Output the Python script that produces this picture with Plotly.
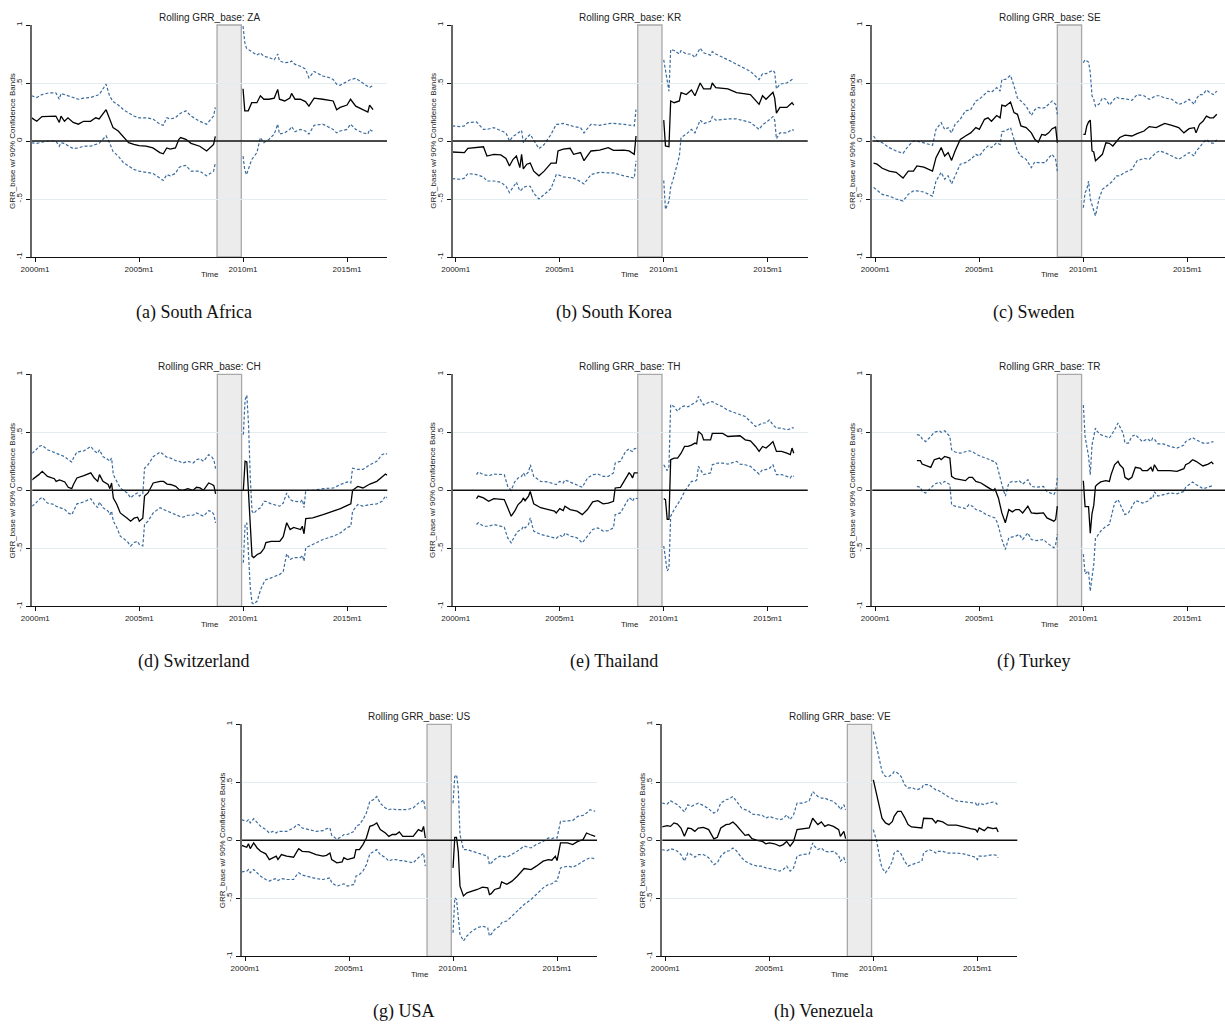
import plotly.graph_objects as go

# Rolling GRR_base estimates with 90% confidence bands.
# Months are counted from 2000m1 (= 0). No estimate is reported inside the
# crisis window, so each line is split there.

ZA_MONTHS = [-2, 1, 4, 8, 12, 14, 15, 17, 19, 22, 25, 28, 32, 35, 37, 41, 43, 45, 48, 51,
             54, 57, 60, 64, 68, 72, 74, 76, 78, 81, 83, 84, 87, 90, 95, 99, 101, 103, 104,
             120, 121, 122, 123, 125, 128, 130, 132, 135, 138, 140, 141, 144, 147, 148, 150,
             153, 156, 158, 161, 166, 170, 172, 174, 176, 180, 182, 185, 189, 192, 193, 195]
ZA_EST = [.20, .17, .21, .215, .215, .16, .215, .17, .20, .16, .145, .17, .17, .20, .19, .27, .19, .115, .086, .04,
          -.015, -.03, -.04, -.045, -.06, -.10, -.11, -.06, -.07, -.06, .015, .03, .015, -.02, -.045, -.086, -.06, -.03, .04,
          .45, .26, .26, .26, .33, .33, .39, .36, .36, .37, .445, .36, .345, .37, .41, .36,
          .36, .34, .30, .37, .36, .35, .345, .27, .29, .31, .36, .30, .27, .25, .31, .27]
ZA_HI = [.39, .375, .40, .415, .415, .36, .41, .40, .39, .37, .36, .37, .375, .39, .40, .49, .39, .34, .31, .27,
         .245, .215, .20, .20, .19, .145, .135, .20, .19, .20, .23, .24, .26, .215, .17, .145, .18, .215, .29,
         .99, .85, .80, .79, .77, .74, .76, .73, .72, .70, .75, .69, .675, .68, .69, .66,
         .645, .62, .545, .60, .56, .545, .53, .49, .48, .51, .53, .54, .50, .475, .46, .48]
ZA_LO = [-.015, -.02, -.01, 0, 0, -.045, -.015, -.02, -.04, -.065, -.06, -.045, -.045, -.03, -.02, .045, -.015, -.09, -.13, -.187,
         -.22, -.245, -.26, -.27, -.28, -.32, -.34, -.29, -.30, -.28, -.23, -.22, -.21, -.26, -.26, -.30, -.28, -.26, -.19,
         -.13, -.25, -.29, -.245, -.16, -.10, .03, -.015, .015, .06, .145, .06, .07, .10, .125, .08,
         .10, .086, .06, .135, .145, .115, .10, .07, .086, .10, .145, .10, .07, .06, .10, .08]

KR_MONTHS = [-2, 3, 5, 7, 12, 16, 18, 22, 26, 29, 31, 33, 35, 37, 38, 39, 41, 43, 45, 48,
             51, 55, 58, 59, 62, 66, 68, 72, 74, 78, 83, 88, 91, 97, 100, 103, 104,
             120, 121, 123, 124, 126, 129, 130, 133, 136, 138, 141, 143, 147, 148, 150, 157,
             162, 170, 175, 177, 179, 183, 184, 185, 187, 191, 194, 195]
KR_EST = [-.095, -.095, -.10, -.063, -.057, -.05, -.13, -.115, -.12, -.15, -.215, -.16, -.13, -.23, -.115, -.24, -.20, -.19, -.26, -.30,
          -.26, -.19, -.19, -.086, -.07, -.063, -.115, -.10, -.17, -.086, -.078, -.057, -.08, -.078, -.086, -.115, .043,
          .18, -.043, -.05, .345, .33, .345, .417, .40, .44, .39, .50, .45, .45, .50, .46, .45,
          .417, .40, .316, .39, .36, .42, .37, .24, .29, .29, .33, .31]
KR_HI = [.13, .124, .13, .158, .164, .10, .10, .115, .09, .07, 0, .04, .057, .08, .092, -.014, .03, .057, .01, -.066,
         -.03, .057, .144, .144, .152, .13, .125, .115, .07, .144, .135, .15, .152, .144, .135, .13, .27,
         .70, .60, .43, .79, .78, .75, .78, .75, .75, .72, .80, .76, .74, .77, .75, .70,
         .66, .60, .53, .58, .58, .61, .59, .45, .49, .50, .53, .52]
KR_LO = [-.325, -.33, -.32, -.28, -.29, -.31, -.345, -.345, -.355, -.39, -.445, -.40, -.355, -.43, -.42, -.40, -.39, -.39, -.45, -.50,
         -.46, -.41, -.29, -.29, -.31, -.32, -.32, -.35, -.37, -.29, -.27, -.275, -.275, -.30, -.31, -.32, -.17,
         -.34, -.59, -.52, -.40, -.30, -.13, .03, .06, .10, .07, .18, .15, .17, .21, .18, .19,
         .19, .16, .10, .14, .16, .21, .18, .02, .07, .07, .10, .09]

SE_MONTHS = [-1, 1, 4, 8, 12, 16, 19, 22, 24, 28, 33, 35, 38, 40, 42, 44, 46, 49, 52, 55,
             58, 60, 63, 65, 67, 70, 72, 73, 75, 78, 80, 82, 84, 87, 90, 92, 94, 96, 98, 100,
             102, 104, 105,
             120, 121, 122, 123, 124, 125, 126, 127, 128, 129, 131, 133, 135, 137, 139, 141, 144, 148,
             151, 155, 158, 162, 164, 167, 171, 175, 178, 181, 184, 185, 187, 189, 191, 193, 195, 197]
SE_EST = [-.19, -.20, -.235, -.26, -.27, -.32, -.26, -.26, -.215, -.225, -.26, -.144, -.057, -.13, -.10, -.167, -.086, .014, .043, .07,
          .115, .10, .187, .20, .17, .22, .20, .31, .30, .336, .245, .23, .13, .115, .07, .014, -.01, .057, .05, .07,
          .106, .12, -.015,
          .057, .057, .13, .164, .18, -.086, -.095, -.17, -.158, -.144, -.115, -.015, -.02, -.043, -.01, .03, .05, .043,
          .063, .086, .124, .115, .13, .152, .135, .115, .07, .106, .115, .07, .144, .17, .215, .20, .20, .23]
SE_HI = [.043, 0, -.015, -.057, -.086, -.106, -.043, 0, 0, -.015, -.037, .10, .158, .10, .115, .07, .144, .187, .26, .27,
         .345, .36, .40, .43, .42, .46, .43, .53, .53, .566, .475, .37, .345, .30, .22, .27, .29, .28, .29, .316,
         .345, .316, .23,
         .675, .70, .69, .68, .59, .39, .36, .30, .31, .316, .37, .36, .31, .345, .38, .365, .365, .35,
         .40, .39, .36, .39, .39, .37, .36, .316, .33, .36, .316, .36, .40, .40, .44, .417, .40, .43]
SE_LO = [-.40, -.425, -.46, -.475, -.50, -.517, -.46, -.43, -.43, -.44, -.475, -.345, -.27, -.33, -.30, -.37, -.30, -.20, -.187, -.158,
         -.115, -.13, -.07, -.043, -.057, -.015, -.03, .08, .086, .115, .014, -.086, -.13, -.158, -.23, -.18, -.187, -.187, -.187, -.144,
         -.115, -.158, -.26,
         -.575, -.445, -.417, -.345, -.50, -.56, -.60, -.645, -.575, -.50, -.417, -.39, -.37, -.345, -.30, -.30, -.27, -.245,
         -.17, -.15, -.158, -.10, -.086, -.10, -.13, -.158, -.13, -.10, -.13, -.086, -.057, -.015, .014, -.015, -.02, .01]

CH_MONTHS = [-2, 0, 2, 4, 7, 11, 12, 14, 17, 19, 21, 22, 24, 28, 32, 34, 36, 37, 39, 42,
             43, 44, 45, 47, 49, 53, 55, 57, 59, 60, 62, 63, 65, 68, 72, 74, 76, 78, 81, 83,
             85, 88, 91, 93, 95, 97, 100, 102, 103, 104,
             120, 121, 122, 123, 124, 125, 126, 128, 130, 132, 133, 136, 141, 143, 145, 147, 149, 153,
             154, 155, 156, 160, 166, 172, 176, 180, 182, 183, 186, 189, 193, 197, 200, 202, 203]
CH_EST = [.09, .11, .135, .163, .12, .10, .077, .09, .072, .026, .014, .05, .106, .126, .15, .106, .077, .135, .077, .05,
          .014, .063, -.066, -.12, -.195, -.24, -.266, -.24, -.232, -.266, -.24, -.05, -.023, .063, .077, .077, .054, .05, .034, .006,
          0, .014, 0, .026, .02, 0, .063, .05, .04, -.03,
          0, .25, .244, -.01, -.35, -.567, -.58, -.553, -.54, -.50, -.45, -.44, -.44, -.40, -.28, -.338, -.32, -.338,
          -.31, -.375, -.243, -.238, -.21, -.18, -.158, -.13, -.117, 0, .034, .02, .054, .077, .12, .14, .13]
CH_HI = [.32, .34, .378, .387, .35, .33, .32, .307, .29, .264, .244, .278, .33, .34, .378, .34, .32, .35, .29, .264,
         .25, .278, .135, .077, .02, -.023, -.066, -.037, -.023, -.05, -.03, .19, .22, .29, .33, .307, .284, .278, .255, .25,
         .235, .25, .235, .264, .272, .25, .307, .284, .264, .186,
         .48, .78, .82, .565, .106, -.18, -.20, -.166, -.15, -.095, -.095, -.117, -.137, -.11, -.023, -.08, -.095, -.10,
         -.08, -.15, 0, 0, .014, .02, .05, .072, .063, .19, .18, .18, .22, .25, .307, .32, .31]
CH_LO = [-.137, -.117, -.08, -.06, -.11, -.123, -.137, -.15, -.166, -.195, -.21, -.18, -.117, -.10, -.072, -.117, -.15, -.10, -.15, -.18,
         -.21, -.18, -.266, -.32, -.395, -.44, -.48, -.45, -.44, -.467, -.48, -.295, -.266, -.195, -.15, -.166, -.18, -.195, -.21, -.223,
         -.232, -.215, -.215, -.195, -.21, -.223, -.175, -.186, -.21, -.28,
         -.625, -.295, -.28, -.58, -.84, -.97, -.98, -.955, -.854, -.79, -.77, -.755, -.725, -.70, -.547, -.596, -.58, -.58,
         -.56, -.61, -.495, -.467, -.424, -.395, -.367, -.32, -.31, -.18, -.123, -.137, -.123, -.117, -.095, -.05, -.066]

TH_MONTHS = [12, 13, 16, 19, 22, 26, 28, 30, 32, 34, 36, 38, 39, 40, 42, 43, 45, 49, 53, 57,
             58, 60, 62, 63, 66, 70, 73, 76, 79, 82, 85, 88, 91, 92, 95, 98, 100, 101, 102, 103, 105,
             120, 121, 122, 123, 124, 126, 128, 130, 132, 134, 136, 138, 139, 140, 142, 143, 147, 148,
             151, 154, 157, 162, 164, 167, 170, 173, 175, 177, 179, 181, 183, 185, 188, 191, 193, 194, 195]
TH_EST = [-.072, -.05, -.066, -.095, -.072, -.075, -.08, -.15, -.223, -.18, -.123, -.095, -.066, -.09, -.05, -.01, -.117, -.15, -.166, -.18,
          -.195, -.158, -.175, -.137, -.166, -.18, -.21, -.166, -.10, -.09, -.117, -.11, -.095, .02, .026, .106, .15, .135, .106, .15, .15,
          -.072, -.08, -.25, -.25, .264, .278, .278, .32, .378, .378, .39, .407, .40, .507, .48, .435, .435, .49,
          .49, .49, .464, .464, .47, .435, .427, .378, .335, .378, .364, .39, .42, .335, .335, .32, .307, .364, .32]
TH_HI = [.135, .158, .135, .126, .14, .14, .135, .034, 0, .072, .106, .12, .15, .126, .158, .22, .12, .077, .072, .054,
         .05, .077, .063, .09, .072, .043, .026, .106, .135, .14, .12, .12, .15, .235, .25, .335, .358, .34, .335, .358, .364,
         .22, .19, .17, .206, .74, .72, .68, .72, .727, .72, .736, .75, .765, .81, .765, .736, .765, .765,
         .74, .72, .69, .665, .65, .636, .593, .55, .564, .58, .58, .607, .564, .536, .536, .52, .53, .54, .536]
TH_LO = [-.295, -.28, -.31, -.31, -.295, -.31, -.318, -.41, -.453, -.395, -.352, -.338, -.31, -.324, -.295, -.238, -.352, -.38, -.395, -.41,
         -.415, -.387, -.404, -.367, -.395, -.41, -.453, -.395, -.338, -.324, -.352, -.347, -.324, -.21, -.195, -.117, -.066, -.072, -.095, -.066, -.072,
         -.48, -.61, -.696, -.673, -.223, -.166, -.117, -.072, -.01, .034, .077, .077, .09, .206, .163, .135, .15, .22,
         .235, .235, .226, .25, .226, .22, .206, .163, .14, .178, .178, .19, .22, .135, .135, .12, .106, .13, .12]

TR_MONTHS = [24, 26, 27, 29, 32, 34, 37, 38, 40, 43, 44, 46, 49, 52, 54, 56, 58, 61, 64, 66,
             68, 69, 70, 71, 73, 75, 77, 79, 81, 83, 85, 88, 90, 93, 97, 99, 103, 104, 105,
             120, 121, 123, 124, 125, 126, 127, 128, 130, 133, 135, 136, 138, 140, 141, 143, 144, 146,
             148, 150, 153, 154, 157, 159, 160, 161, 163, 166, 170, 174, 178, 179, 181, 183, 185, 189,
             192, 194, 195]
TR_EST = [.255, .255, .226, .215, .198, .264, .278, .264, .292, .278, .12, .10, .092, .083, .112, .112, .077, .063, .034, .014,
          -.003, .014, -.023, -.066, -.195, -.28, -.166, -.186, -.166, -.166, -.195, -.137, -.195, -.20, -.195, -.238, -.266, -.252, -.137,
          .083, -.14, -.14, -.37, -.20, -.13, .034, .05, .072, .083, .077, .135, .22, .25, .22, .19, .112, .092,
          .112, .198, .19, .17, .17, .198, .163, .22, .17, .17, .17, .163, .186, .22, .235, .264, .25, .21,
          .226, .244, .226]
TR_HI = [.48, .473, .444, .42, .464, .50, .513, .50, .513, .464, .35, .33, .32, .33, .34, .335, .312, .292, .278, .264,
         .25, .25, .226, .163, .05, -.05, .063, .077, .072, .083, .054, .092, .034, .026, .034, -.01, -.037, -.01, .106,
         .736, .464, .292, .135, .39, .45, .536, .507, .48, .464, .45, .473, .52, .58, .55, .49, .407, .407,
         .464, .48, .435, .42, .444, .42, .45, .44, .40, .40, .378, .364, .39, .42, .435, .455, .435, .407,
         .407, .42, .42]
TR_LO = [.034, .026, -.01, -.023, .02, .05, .072, .054, .077, .05, -.123, -.137, -.146, -.158, -.123, -.137, -.166, -.18, -.21, -.223,
         -.238, -.238, -.266, -.31, -.424, -.51, -.41, -.404, -.395, -.38, -.424, -.367, -.424, -.433, -.424, -.453, -.496, -.467, -.38,
         -.55, -.72, -.696, -.87, -.75, -.64, -.41, -.395, -.352, -.31, -.295, -.238, -.11, -.08, -.11, -.166, -.21, -.195,
         -.137, -.09, -.10, -.11, -.095, -.066, -.072, -.014, -.05, -.037, -.023, -.03, -.01, .026, .05, .072, .05, .014,
         .026, .034, .043]

US_MONTHS = [-2, 1, 2, 3, 5, 7, 9, 12, 14, 16, 18, 19, 21, 24, 28, 30, 31, 33, 37, 41,
             45, 47, 49, 50, 53, 56, 57, 59, 63, 64, 66, 68, 70, 72, 74, 76, 78, 81, 83, 85,
             87, 89, 91, 93, 97, 100, 102, 103, 104,
             120, 121, 122, 123, 124, 126, 128, 131, 134, 137, 140, 141, 142, 144, 147, 148, 151, 154,
             157, 161, 165, 168, 172, 175, 177, 179, 180, 182, 186, 189, 192, 195, 197, 199, 202]
US_EST = [-.043, -.06, -.03, -.072, -.023, -.066, -.095, -.117, -.166, -.15, -.137, -.166, -.123, -.137, -.146, -.095, -.072, -.095, -.10, -.123,
          -.137, -.13, -.11, -.166, -.195, -.186, -.15, -.166, -.15, -.08, -.08, -.037, .02, .12, .13, .15, .092, .063, .034, .05,
          .05, .072, .034, .034, .034, .092, .077, .12, .02,
          -.238, .026, .026, -.095, -.395, -.48, -.453, -.44, -.424, -.404, -.41, -.467, -.46, -.424, -.41, -.358, -.38, -.352,
          -.31, -.243, -.252, -.223, -.18, -.166, -.172, -.137, -.175, -.023, -.023, -.037, -.01, .006, .063, .05, .034]
US_HI = [.178, .163, .178, .15, .186, .15, .12, .092, .063, .077, .063, .077, .077, .077, .106, .135, .135, .106, .092, .077,
         .083, .10, .106, .043, .01, .034, .05, .05, .077, .12, .135, .178, .235, .335, .35, .378, .32, .278, .264, .272,
         .264, .264, .264, .264, .278, .32, .335, .35, .264,
         .32, .55, .565, .45, .05, -.08, -.08, -.095, -.11, -.123, -.137, -.21, -.195, -.166, -.137, -.137, -.146, -.123,
         -.095, -.05, -.066, -.037, -.01, .02, .014, .026, .02, .163, .17, .17, .206, .215, .235, .264, .25]
US_LO = [-.272, -.266, -.252, -.28, -.252, -.28, -.31, -.338, -.352, -.338, -.33, -.347, -.33, -.338, -.338, -.295, -.28, -.30, -.318, -.33,
         -.338, -.33, -.324, -.367, -.395, -.38, -.375, -.395, -.38, -.31, -.295, -.266, -.21, -.117, -.095, -.08, -.123, -.15, -.18, -.166,
         -.166, -.175, -.175, -.18, -.195, -.15, -.117, -.11, -.223,
         -.797, -.496, -.51, -.64, -.81, -.868, -.825, -.782, -.754, -.74, -.754, -.825, -.81, -.768, -.74, -.71, -.696, -.653,
         -.61, -.553, -.51, -.467, -.41, -.38, -.375, -.352, -.352, -.238, -.223, -.232, -.21, -.18, -.166, -.15, -.16]

VE_MONTHS = [-2, 1, 3, 5, 7, 9, 11, 13, 15, 17, 19, 22, 25, 27, 28, 30, 32, 35, 37, 39,
             41, 44, 46, 48, 50, 53, 56, 58, 60, 63, 66, 68, 70, 72, 74, 76, 79, 82, 83, 85,
             86, 88, 90, 92, 94, 97, 100, 101, 103, 104,
             120, 122, 124, 125, 127, 129, 131, 132, 134, 136, 138, 140, 142, 145, 148, 149, 152,
             154, 156, 157, 160, 163, 168, 172, 176, 179, 180, 181, 184, 186, 189, 191, 192]
VE_EST = [.115, .126, .12, .15, .14, .106, .034, .106, .10, .077, .106, .112, .092, .034, .012, .026, .106, .135, .14, .158,
          .13, .077, .043, .05, .014, 0, -.01, -.03, -.023, -.03, -.05, -.037, -.01, -.05, -.01, .092, .10, .106, .106, .19,
          .17, .135, .158, .12, .135, .12, .092, .034, .077, .014,
          .52, .39, .264, .19, .15, .135, .163, .206, .25, .25, .198, .135, .115, .112, .106, .19, .19,
          .186, .15, .17, .158, .13, .13, .112, .10, .092, .072, .106, .083, .112, .10, .106, .072]
VE_HI = [.32, .312, .34, .32, .307, .278, .244, .307, .292, .307, .32, .30, .272, .244, .235, .25, .32, .35, .358, .378,
         .335, .278, .264, .255, .226, .22, .215, .19, .206, .19, .178, .186, .22, .178, .22, .32, .32, .335, .34, .42,
         .407, .378, .364, .364, .35, .335, .292, .264, .307, .264,
         .937, .794, .65, .593, .55, .55, .57, .593, .58, .55, .48, .45, .455, .435, .45, .48, .48,
         .455, .435, .435, .407, .378, .34, .335, .33, .32, .292, .32, .307, .32, .33, .32, .292]
VE_LO = [-.08, -.09, -.072, -.08, -.095, -.123, -.18, -.11, -.123, -.146, -.123, -.123, -.15, -.195, -.21, -.195, -.137, -.095, -.09, -.066,
         -.09, -.15, -.18, -.195, -.21, -.223, -.223, -.238, -.243, -.252, -.266, -.252, -.223, -.266, -.238, -.137, -.123, -.117, -.117, -.023,
         -.05, -.08, -.066, -.095, -.10, -.095, -.13, -.18, -.15, -.195,
         .092, -.01, -.18, -.238, -.28, -.238, -.18, -.11, -.09, -.117, -.18, -.223, -.21, -.195, -.18, -.11, -.08,
         -.09, -.11, -.095, -.095, -.11, -.11, -.117, -.13, -.146, -.166, -.137, -.137, -.13, -.123, -.13, -.15]

COUNTRY_CODES = ["ZA", "KR", "SE", "CH", "TH", "TR", "US", "VE"]
CAPTIONS = ["(a) South Africa", "(b) South Korea", "(c) Sweden", "(d) Switzerland",
            "(e) Thailand", "(f) Turkey", "(g) USA", "(h) Venezuela"]
X_TICK_YEARS = [2000, 2005, 2010, 2015]
X_TICK_TEXT = ["2000m1", "2005m1", "2010m1", "2015m1"]
Y_TICK_VALUES = [-1, -0.5, 0, 0.5, 1]
Y_TICK_TEXT = ["-1", "-.5", "0", ".5", "1"]
CRISIS_START_MONTH = 105   # 2008m10
CRISIS_END_MONTH = 119     # 2009m12

SERIES = {
    "ZA": (ZA_MONTHS, ZA_EST, ZA_HI, ZA_LO),
    "KR": (KR_MONTHS, KR_EST, KR_HI, KR_LO),
    "SE": (SE_MONTHS, SE_EST, SE_HI, SE_LO),
    "CH": (CH_MONTHS, CH_EST, CH_HI, CH_LO),
    "TH": (TH_MONTHS, TH_EST, TH_HI, TH_LO),
    "TR": (TR_MONTHS, TR_EST, TR_HI, TR_LO),
    "US": (US_MONTHS, US_EST, US_HI, US_LO),
    "VE": (VE_MONTHS, VE_EST, VE_HI, VE_LO),
}

# ---- page geometry (pixels) ----
FIG_W, FIG_H = 1225, 1036
PLOT_W, PLOT_H = 355, 232
PANEL_ORIGINS = [(32, 25), (452.7, 25), (872.3, 25),
                 (32.3, 374.3), (452.7, 374.3), (872.3, 374.3),
                 (242, 724.3), (662.3, 724.3)]
X_START, X_END = 1999.855, 2016.92
PX_PER_YEAR = PLOT_W / (X_END - X_START)

SANS = "Liberation Sans, Arial, sans-serif"
SERIF = "Liberation Serif, Times New Roman, serif"
BAND_COLOR = "#3b6c9e"
GRID_COLOR = "#e2edf0"


def to_year(m):
    return 2000 + m / 12.0


def split_at_crisis(months, values):
    """Return x/y lists with a None break between pre- and post-crisis points."""
    xs, ys = [], []
    prev = None
    for m, v in zip(months, values):
        if prev is not None and prev < CRISIS_END_MONTH < m:
            xs.append(None)
            ys.append(None)
        xs.append(to_year(m))
        ys.append(v)
        prev = m
    return xs, ys


fig = go.Figure()
layout = dict(
    template="none",
    width=FIG_W, height=FIG_H, autosize=False,
    margin=dict(l=0, r=0, t=0, b=0, pad=0),
    paper_bgcolor="white", plot_bgcolor="white",
    showlegend=False,
    font=dict(family=SANS, size=8, color="#222"),
)
shapes, annotations = [], []

for i, (code, caption) in enumerate(zip(COUNTRY_CODES, CAPTIONS)):
    n = i + 1
    xa = "xaxis" if n == 1 else f"xaxis{n}"
    ya = "yaxis" if n == 1 else f"yaxis{n}"
    xr = "x" if n == 1 else f"x{n}"
    yr = "y" if n == 1 else f"y{n}"
    left, top = PANEL_ORIGINS[i]
    width = min(PLOT_W, FIG_W - left)
    x_end = X_START + width / PX_PER_YEAR

    layout[xa] = dict(
        type="linear", automargin=False,
        domain=[left / FIG_W, (left + width) / FIG_W], anchor=yr,
        range=[X_START, x_end], showgrid=False, zeroline=False,
        showline=True, linecolor="#111", linewidth=1.3,
        ticks="outside", ticklen=4, tickwidth=1, tickcolor="#111",
        tickvals=X_TICK_YEARS, ticktext=X_TICK_TEXT,
        tickfont=dict(family=SANS, size=8, color="#222"),
    )
    layout[ya] = dict(
        type="linear", automargin=False,
        domain=[1 - (top + PLOT_H) / FIG_H, 1 - top / FIG_H], anchor=xr,
        range=[-1, 1], zeroline=False,
        showgrid=True, gridcolor=GRID_COLOR, gridwidth=1,
        showline=True, linecolor="#666", linewidth=2,
        ticks="outside", ticklen=4, tickwidth=1, tickcolor="#111",
        tickvals=Y_TICK_VALUES, ticktext=Y_TICK_TEXT, tickangle=-90,
        ticklabelstandoff=1,
        tickfont=dict(family=SANS, size=8, color="#222"),
    )

    # crisis window
    shapes.append(dict(type="rect", xref=xr, yref=f"{yr} domain",
                       x0=to_year(CRISIS_START_MONTH), x1=to_year(CRISIS_END_MONTH),
                       y0=0, y1=1, fillcolor="#ececec",
                       line=dict(color="#a9a9a9", width=1.3), layer="below"))
    # zero reference line
    shapes.append(dict(type="line", xref=f"{xr} domain", yref=yr,
                       x0=0, x1=1, y0=0, y1=0,
                       line=dict(color="#111", width=1.4), layer="above"))

    months, est, hi, lo = SERIES[code]
    for vals in (hi, lo):
        xs, ys = split_at_crisis(months, vals)
        fig.add_trace(go.Scatter(x=xs, y=ys, mode="lines", xaxis=xr, yaxis=yr,
                                 line=dict(color=BAND_COLOR, width=1.2, dash="3px,2px"),
                                 connectgaps=False, hoverinfo="skip"))
    xs, ys = split_at_crisis(months, est)
    fig.add_trace(go.Scatter(x=xs, y=ys, mode="lines", xaxis=xr, yaxis=yr,
                             line=dict(color="#000", width=1.3),
                             connectgaps=False, hoverinfo="skip"))

    cx = left + PLOT_W / 2
    # panel title
    annotations.append(dict(text=f"Rolling GRR_base: {code}", xref="paper", yref="paper",
                            x=cx / FIG_W, y=1 - (top - 8) / FIG_H,
                            xanchor="center", yanchor="middle", showarrow=False,
                            font=dict(family=SANS, size=10, color="#222")))
    # y-axis title
    annotations.append(dict(text="GRR_base w/ 90% Confidence Bands", xref="paper", yref="paper",
                            x=(left - 20) / FIG_W, y=1 - (top + PLOT_H / 2) / FIG_H,
                            xanchor="center", yanchor="middle", textangle=-90, showarrow=False,
                            font=dict(family=SANS, size=8, color="#222")))
    # x-axis title
    annotations.append(dict(text="Time", xref="paper", yref="paper",
                            x=cx / FIG_W, y=1 - (top + PLOT_H + 18) / FIG_H,
                            xanchor="center", yanchor="middle", showarrow=False,
                            font=dict(family=SANS, size=8, color="#222")))
    # sub-figure caption
    annotations.append(dict(text=caption, xref="paper", yref="paper",
                            x=(cx - 16) / FIG_W, y=1 - (top + PLOT_H + 55) / FIG_H,
                            xanchor="center", yanchor="middle", showarrow=False,
                            font=dict(family=SERIF, size=18, color="#111")))

layout["shapes"] = shapes
layout["annotations"] = annotations
fig.update_layout(**layout)
fig.write_html("out.html")
